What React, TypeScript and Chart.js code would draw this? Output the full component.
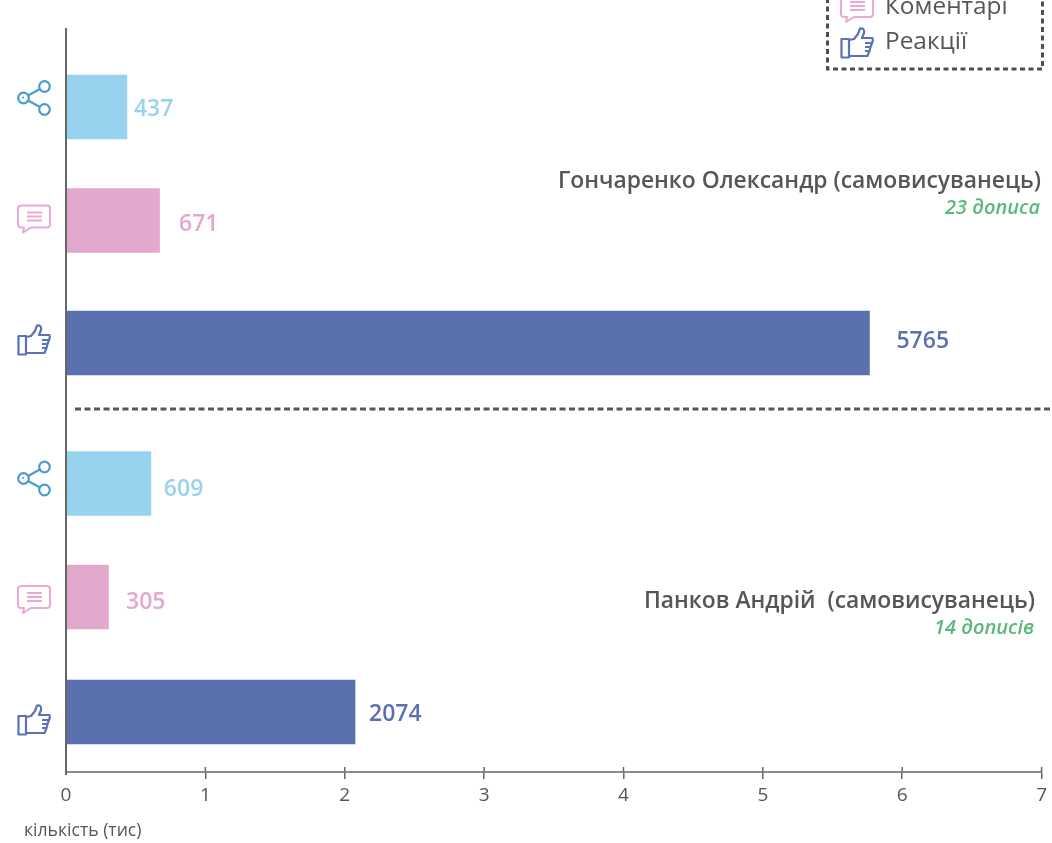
import React, { useEffect, useRef } from "react";
import { Chart, registerables } from "chart.js";

Chart.register(...registerables);

const metrics = ["Поширення", "Коментарі", "Реакції", "Поширення", "Коментарі", "Реакції"];
const counts = [0.437, 0.671, 5.765, 0.609, 0.305, 2.074];
const valueLabels = ["437", "671", "5765", "609", "305", "2074"];
// row centres on the hidden vertical axis (rows are not evenly spaced in the source)
const rowCentres = [0.79, 1.925, 3.15, 4.555, 5.69, 6.84];
const groupDivider = 3.81;
const candidateOne = "Гончаренко Олександр (самовисуванець)";
const postsOne = "23 дописа";
const candidateTwo = "Панков Андрій  (самовисуванець)";
const postsTwo = "14 дописів";
const axisCaption = "кількість (тис)";
const legendItems = ["Коментарі", "Реакції"];

const FONT = '"Open Sans", "Noto Sans", sans-serif';
const C_SHARE = "#97d3ee";
const C_COMMENT = "#e2a8cd";
const C_LIKE = "#5a70af";
const C_SHARE_ICON = "#4b9ccb";
const C_COMMENT_ICON = "#e9a9d2";
const C_LIKE_ICON = "#5a72b8";
const C_TEXT = "#555658";
const C_GREEN = "#5ab87a";

const colourFor = (m: string) => (m === "Поширення" ? C_SHARE : m === "Коментарі" ? C_COMMENT : C_LIKE);

function drawShare(ctx: CanvasRenderingContext2D, cx: number, cy: number) {
  ctx.save();
  ctx.translate(cx, cy);
  ctx.strokeStyle = C_SHARE_ICON;
  ctx.lineWidth = 2.2;
  ctx.beginPath();
  ctx.moveTo(-10.5, 0);
  ctx.lineTo(10.5, -11.5);
  ctx.moveTo(-10.5, 0);
  ctx.lineTo(10.5, 11.5);
  ctx.stroke();
  for (const [x, y] of [[-10.5, 0], [10.5, -11.5], [10.5, 11.5]]) {
    ctx.beginPath();
    ctx.arc(x, y, 5.3, 0, Math.PI * 2);
    ctx.fillStyle = "#fff";
    ctx.fill();
    ctx.stroke();
  }
  ctx.beginPath();
  ctx.arc(-11, -0.5, 1, 0, Math.PI * 2);
  ctx.fillStyle = C_SHARE_ICON;
  ctx.fill();
  ctx.restore();
}

function drawComment(ctx: CanvasRenderingContext2D, cx: number, cy: number) {
  ctx.save();
  ctx.translate(cx, cy);
  ctx.strokeStyle = C_COMMENT_ICON;
  ctx.lineWidth = 2;
  ctx.lineJoin = "round";
  ctx.beginPath();
  ctx.moveTo(-12, -12);
  ctx.lineTo(13, -12);
  ctx.quadraticCurveTo(16, -12, 16, -9);
  ctx.lineTo(16, 7);
  ctx.quadraticCurveTo(16, 10, 13, 10);
  ctx.lineTo(-3, 10);
  ctx.lineTo(-11, 15);
  ctx.lineTo(-10, 10);
  ctx.lineTo(-13, 10);
  ctx.quadraticCurveTo(-16, 10, -16, 7);
  ctx.lineTo(-16, -9);
  ctx.quadraticCurveTo(-16, -12, -12, -12);
  ctx.closePath();
  ctx.stroke();
  ctx.beginPath();
  for (const y of [-5, -1, 3]) {
    ctx.moveTo(-7, y);
    ctx.lineTo(8, y);
  }
  ctx.stroke();
  ctx.restore();
}

function drawLike(ctx: CanvasRenderingContext2D, cx: number, cy: number) {
  ctx.save();
  ctx.translate(cx, cy);
  ctx.strokeStyle = C_LIKE_ICON;
  ctx.lineWidth = 2.2;
  ctx.lineJoin = "round";
  ctx.strokeRect(-15.5, -4, 7.5, 18.5);
  ctx.beginPath();
  ctx.moveTo(-8, -3);
  ctx.lineTo(-3, -4);
  ctx.lineTo(1, -9);
  ctx.lineTo(3, -14.5);
  ctx.quadraticCurveTo(8, -15, 7, -10);
  ctx.lineTo(5, -5);
  ctx.lineTo(15.5, -5);
  ctx.quadraticCurveTo(16.5, -2, 15, 0);
  ctx.lineTo(8, 0);
  ctx.moveTo(15, 0);
  ctx.lineTo(13.5, 4);
  ctx.lineTo(8, 4);
  ctx.moveTo(13.5, 4);
  ctx.lineTo(12.5, 8);
  ctx.lineTo(8, 8);
  ctx.moveTo(12.5, 8);
  ctx.lineTo(10.5, 13);
  ctx.lineTo(-8, 13);
  ctx.stroke();
  ctx.restore();
}

const iconFor = (m: string) => (m === "Поширення" ? drawShare : m === "Коментарі" ? drawComment : drawLike);

const labelGaps = [7, 19.5, 27, 13, 17.5, 14];
const labelShifts = [2, 4, -2, 6, 5, 2];
const iconShifts = [-9, -3, -3, -5, 1, 8];

const annotations = {
  id: "annotations",
  afterDraw(chart: any) {
    const { ctx, scales } = chart;
    const x = scales.x;
    const y = scales.y;
    const bottom = chart.chartArea.bottom;
    ctx.save();

    // upper half of the ticks, which cross the axis line
    ctx.strokeStyle = "#666769";
    ctx.lineWidth = 1.5;
    x.ticks.forEach((t: any) => {
      if (t.value === 0) return;
      const px = x.getPixelForValue(t.value);
      ctx.beginPath();
      ctx.moveTo(px, bottom - 5);
      ctx.lineTo(px, bottom);
      ctx.stroke();
    });

    // left axis
    ctx.strokeStyle = "#666769";
    ctx.lineWidth = 2;
    ctx.beginPath();
    ctx.moveTo(x.left, chart.chartArea.top);
    ctx.lineTo(x.left, bottom + 3);
    ctx.stroke();

    // icons and value labels
    ctx.textBaseline = "middle";
    ctx.textAlign = "left";
    counts.forEach((v, i) => {
      const cy = y.getPixelForValue(rowCentres[i]);
      iconFor(metrics[i])(ctx, 34, cy + iconShifts[i]);
      ctx.font = `600 23px ${FONT}`;
      ctx.fillStyle = colourFor(metrics[i]);
      ctx.fillText(valueLabels[i], x.getPixelForValue(v) + labelGaps[i], cy + labelShifts[i]);
    });

    // divider
    const dy = y.getPixelForValue(groupDivider);
    ctx.strokeStyle = "#56575a";
    ctx.lineWidth = 3;
    ctx.setLineDash([6, 3.5]);
    ctx.beginPath();
    ctx.moveTo(75, dy);
    ctx.lineTo(1050, dy);
    ctx.stroke();

    // candidate captions
    ctx.setLineDash([]);
    ctx.textAlign = "right";
    ctx.fillStyle = C_TEXT;
    ctx.font = `600 22.85px ${FONT}`;
    ctx.fillText(candidateOne, 1041, 181);
    ctx.fillText(candidateTwo, 1035, 601);
    ctx.fillStyle = C_GREEN;
    ctx.font = `italic 600 20px ${FONT}`;
    ctx.fillText(postsOne, 1040, 208);
    ctx.fillText(postsTwo, 1034, 628);

    // axis caption
    ctx.textAlign = "left";
    ctx.fillStyle = C_TEXT;
    ctx.font = `400 17.6px ${FONT}`;
    ctx.fillText(axisCaption, 24, 831);

    // legend (its top edge runs off the page)
    ctx.strokeStyle = "#4d4e50";
    ctx.lineWidth = 3;
    ctx.setLineDash([5, 3.5]);
    ctx.strokeRect(827.5, -30, 215, 99);
    ctx.setLineDash([]);
    ctx.fillStyle = C_TEXT;
    ctx.font = `400 24.4px ${FONT}`;
    ctx.fillText(legendItems[0], 885, 7);
    ctx.fillText(legendItems[1], 885, 42);
    drawComment(ctx, 857, 7);
    drawLike(ctx, 857, 43);
    ctx.restore();
  },
};

export default function App() {
  const ref = useRef<HTMLCanvasElement>(null);
  useEffect(() => {
    document.body.style.margin = "0";
    const chart = new Chart(ref.current as HTMLCanvasElement, {
      type: "bar",
      data: {
        datasets: [
          {
            label: "кількість",
            data: counts.map((v, i) => ({ x: v, y: rowCentres[i] })),
            backgroundColor: metrics.map(colourFor),
            barThickness: 64,
            borderWidth: 0,
          },
        ],
      },
      options: {
        indexAxis: "y",
        animation: false,
        responsive: false,
        devicePixelRatio: 1,
        layout: { padding: { left: 66, right: 10, top: 28, bottom: 0 } },
        plugins: { legend: { display: false }, title: { display: false }, tooltip: { enabled: false } },
        scales: {
          y: {
            type: "linear",
            min: 0,
            max: 7.44,
            reverse: true,
            display: false,
            offset: false,
            grid: { display: false, offset: false },
          },
          x: {
            type: "linear",
            min: 0,
            max: 7,
            afterFit(scale: any) {
              scale.height = 71;
            },
            border: { color: "#8a8b8d", width: 2 },
            grid: {
              drawOnChartArea: false,
              drawTicks: true,
              tickLength: 7,
              color: (c: any) => (c.tick && c.tick.value === 0 ? "rgba(0,0,0,0)" : "#666769"),
              lineWidth: 1.5,
            },
            ticks: {
              stepSize: 1,
              maxRotation: 0,
              color: C_TEXT,
              padding: 5,
              font: { family: FONT, size: 19, weight: "400" },
            },
          },
        },
      },
      plugins: [annotations],
    } as any);
    return () => chart.destroy();
  }, []);
  return <canvas ref={ref} width={1052} height={843} style={{ display: "block" }} />;
}
